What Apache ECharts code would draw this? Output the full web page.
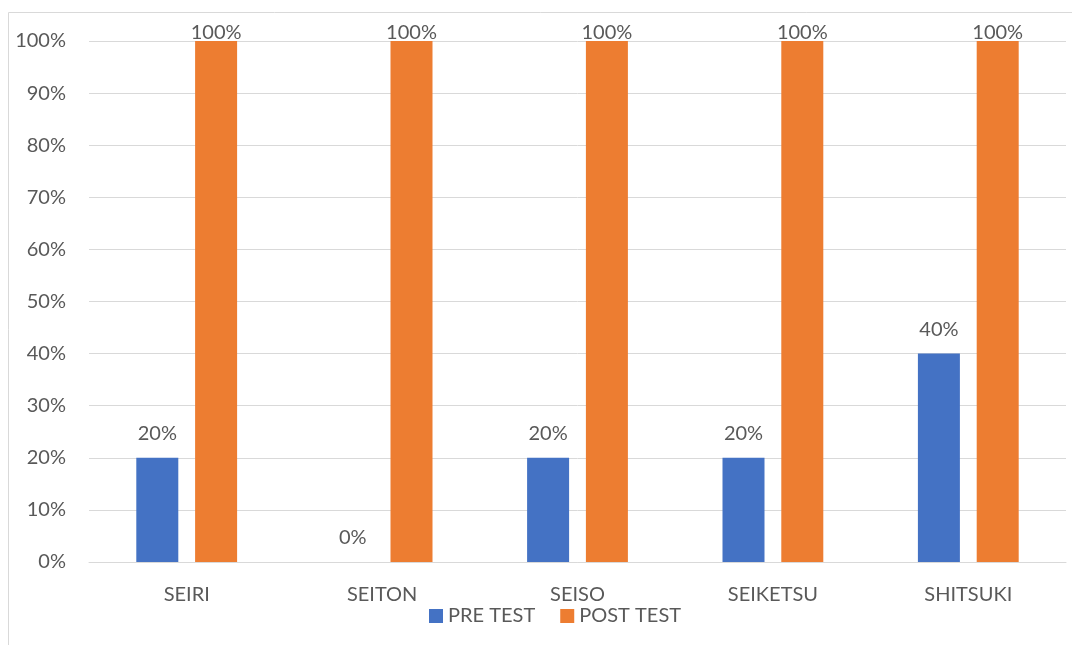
<!DOCTYPE html>
<html>
<head>
<meta charset="utf-8">
<script src="https://cdn.jsdelivr.net/npm/echarts@6/dist/echarts.min.js"></script>
<style>
html,body{margin:0;padding:0;background:#fff;}
#c{width:1072px;height:645px;}
</style>
</head>
<body>
<div id="c"></div>
<script>
const categories = ['SEIRI', 'SEITON', 'SEISO', 'SEIKETSU', 'SHITSUKI'];
const preTest = [20, 0, 20, 20, 40];
const postTest = [100, 100, 100, 100, 100];
const yTicks = [0, 10, 20, 30, 40, 50, 60, 70, 80, 90, 100];

const FONT = 'Lato';
const TXT = '#595959';
const FS = 20;

function items(vals) {
  return vals.map(v => ({ value: v, label: { distance: v >= 100 ? -2 : 14 } }));
}

const chart = echarts.init(document.getElementById('c'), null, { renderer: 'canvas' });
chart.setOption({
  animation: false,
  textStyle: { fontFamily: FONT },
  graphic: [{
    type: 'rect', silent: true, z: -10,
    shape: { x: 8.5, y: 12.5, width: 1200, height: 800 },
    style: { fill: 'none', stroke: '#d9d9d9', lineWidth: 1 }
  }],
  grid: { left: 89, right: 6, top: 41, bottom: 83, containLabel: false },
  legend: {
    left: 424, top: 601,
    itemWidth: 14, itemHeight: 14, itemGap: 25,
    icon: 'rect',
    textStyle: { color: TXT, fontSize: FS, fontFamily: FONT },
    data: ['PRE TEST', 'POST TEST']
  },
  xAxis: {
    type: 'category',
    data: categories,
    axisLine: { show: true, lineStyle: { color: '#d9d9d9', width: 1 } },
    axisTick: { show: false },
    axisLabel: { color: TXT, fontSize: FS, fontFamily: FONT, margin: 23 }
  },
  yAxis: {
    type: 'value',
    min: yTicks[0], max: yTicks[yTicks.length - 1], interval: 10,
    axisLine: { show: false },
    axisTick: { show: false },
    splitLine: { lineStyle: { color: '#d9d9d9', width: 1 } },
    axisLabel: { color: TXT, fontSize: FS, fontFamily: FONT, margin: 23, formatter: '{value}%' }
  },
  series: [
    {
      name: 'PRE TEST', type: 'bar',
      data: items(preTest),
      barWidth: 42, barGap: '40%',
      itemStyle: { color: '#4472C4' },
      label: { show: true, position: 'top', color: TXT, fontSize: FS, fontFamily: FONT, formatter: '{c}%' }
    },
    {
      name: 'POST TEST', type: 'bar',
      data: items(postTest),
      barWidth: 42, barGap: '40%',
      itemStyle: { color: '#ED7D31' },
      label: { show: true, position: 'top', color: TXT, fontSize: FS, fontFamily: FONT, formatter: '{c}%' }
    }
  ]
});
</script>
</body>
</html>
